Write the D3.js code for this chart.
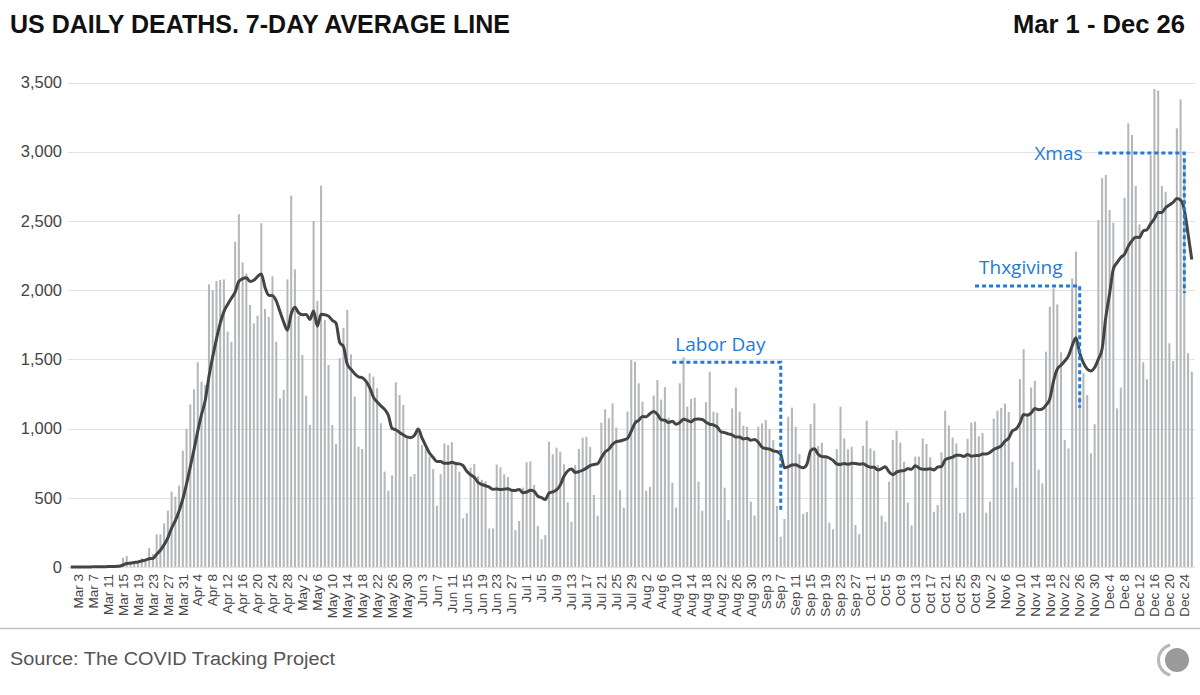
<!DOCTYPE html>
<html>
<head>
<meta charset="utf-8">
<script src="https://cdn.jsdelivr.net/npm/d3@7"></script>
<style>
  html, body { margin: 0; padding: 0; background: #fff; }
  svg { display: block; }
</style>
</head>
<body>
<svg id="chart" width="1200" height="695"></svg>
<script>
// ---- data ----
const startDate = "2020-03-01";
const endDate = "2020-12-26";

const deaths = [
  // Mar 1 - Mar 31
  0, 0, 1, 1, 2, 1, 2, 2, 3, 4, 5, 6, 8, 9, 67, 80, 26, 31, 31, 63, 50, 137, 94, 236, 236, 315, 407, 544, 508, 588, 840,
  // Apr 1 - Apr 30
  999, 1175, 1283, 1479, 1339, 1315, 2042, 2001, 2066, 2073, 2078, 1700, 1628, 2350, 2548, 2201, 2121, 1893, 1760, 1815,
  2483, 1864, 1808, 2100, 1628, 1218, 1279, 2078, 2683, 2150,
  // May 1 - May 31
  1813, 1531, 1238, 1026, 2500, 1922, 2755, 1784, 1459, 1026, 889, 1507, 1728, 1857, 1536, 1231, 869, 852, 1327, 1399,
  1375, 1291, 1038, 689, 551, 662, 1334, 1242, 1170, 929, 653,
  // Jun 1 - Jun 30
  672, 978, 881, 852, 797, 708, 443, 670, 893, 881, 901, 737, 689, 352, 388, 718, 745, 655, 630, 620,
  279, 279, 740, 720, 670, 650, 545, 267, 332, 573,
  // Jul 1 - Jul 31
  756, 763, 592, 296, 200, 231, 905, 814, 862, 833, 742, 467, 327, 737, 852, 934, 941, 869, 520, 371,
  1043, 1139, 1074, 1182, 1007, 556, 429, 1122, 1495, 1483, 1327,
  // Aug 1 - Aug 31
  1194, 551, 580, 1238, 1351, 1210, 1300, 1079, 609, 429, 1327, 1515, 1158, 1214, 1223, 616, 407, 1190, 1411, 1122,
  1115, 978, 573, 340, 1146, 1296, 1122, 1021, 1014, 472, 371,
  // Sep 1 - Sep 30
  1014, 1038, 1062, 997, 917, 441, 219, 347, 1086, 1151, 1014, 816, 383, 397, 1033, 1182, 874, 898, 809, 320,
  272, 852, 1158, 929, 850, 869, 303, 238, 876, 1057,
  // Oct 1 - Oct 31
  857, 840, 737, 371, 327, 616, 917, 985, 898, 760, 465, 300, 797, 797, 929, 889, 792, 399, 448, 828,
  1129, 1022, 935, 893, 390, 394, 927, 1043, 1050, 944, 968,
  // Nov 1 - Nov 30
  392, 472, 1073, 1129, 1149, 1180, 1120, 761, 573, 1356, 1573, 1110, 1296, 1346, 704, 604, 1556, 1881, 2013, 1897,
  1551, 917, 857, 2085, 2278, 1230, 1400, 1243, 821, 1031,
  // Dec 1 - Dec 26
  2507, 2808, 2832, 2579, 2487, 1146, 1296, 2668, 3205, 3121, 2752, 2475, 1479, 1356, 2976, 3453, 3441, 2752, 2711, 1616,
  1488, 3169, 3378, 2939, 1544, 1411
];

const yTicks = [0, 500, 1000, 1500, 2000, 2500, 3000, 3500];
const tickEvery = 4;      // x labels every 4th day
const tickOffset = 2;     // first label: Mar 3
const avgWindow = 7;

const annotations = [
  { label: "Labor Day", date: "2020-09-07", level: 1480, from: "2020-08-09", bottom: 410 },
  { label: "Thxgiving", date: "2020-11-26", level: 2030, from: "2020-10-29", bottom: 1150 },
  { label: "Xmas", date: "2020-12-24", level: 2990, from: "2020-12-01", bottom: 1980 }
];

// ---- layout ----
const svg = d3.select("#chart");
const W = 1200, H = 695;
const parse = d3.utcParse("%Y-%m-%d");
const fmt = d3.utcFormat("%b %-d");
const dates = d3.utcDay.range(parse(startDate), d3.utcDay.offset(parse(endDate), 1));
const data = dates.map((d, i) => ({ date: d, value: deaths[i] }));

const step = 3.737;
const x0 = 70.7;
const x = d3.scaleBand()
  .domain(dates.map(d => +d))
  .range([x0 - step / 2, x0 + (dates.length - 0.5) * step])
  .paddingInner(0.45)
  .paddingOuter(0.225);
const cx = d => x(+d) + x.bandwidth() / 2;

const y = d3.scaleLinear().domain([0, 3500]).range([567, 82.5]);

// header
svg.append("text")
  .attr("x", 10).attr("y", 33)
  .attr("font-family", "'Liberation Sans Narrow', 'Arial Narrow', 'Liberation Sans', Arial, sans-serif")
  .attr("font-weight", "bold").attr("font-size", 26).attr("fill", "#111")
  .attr("textLength", 500).attr("lengthAdjust", "spacingAndGlyphs")
  .text("US DAILY DEATHS. 7-DAY AVERAGE LINE");
svg.append("text")
  .attr("x", 1185).attr("y", 33).attr("text-anchor", "end")
  .attr("font-family", "'Liberation Sans Narrow', 'Arial Narrow', 'Liberation Sans', Arial, sans-serif")
  .attr("font-weight", "bold").attr("font-size", 26).attr("fill", "#111")
  .attr("textLength", 172).attr("lengthAdjust", "spacingAndGlyphs")
  .text("Mar 1 - Dec 26");

// gridlines + y labels
const grid = svg.append("g");
grid.selectAll("line").data(yTicks).join("line")
  .attr("x1", 68).attr("x2", 1195)
  .attr("y1", d => Math.round(y(d)) + 0.5).attr("y2", d => Math.round(y(d)) + 0.5)
  .attr("stroke", "#e2e2e2").attr("stroke-width", 1);
grid.selectAll("text").data(yTicks).join("text")
  .attr("x", 62).attr("y", d => y(d)).attr("dy", "0.35em")
  .attr("text-anchor", "end")
  .attr("font-family", "'Liberation Sans', Arial, sans-serif")
  .attr("font-size", 16.5).attr("fill", "#444")
  .text(d => d3.format(",")(d));

// bars
svg.append("g").selectAll("rect").data(data).join("rect")
  .attr("x", d => x(+d.date))
  .attr("width", x.bandwidth())
  .attr("y", d => y(d.value))
  .attr("height", d => y(0) - y(d.value))
  .attr("fill", "#b4b8bb");

// 7-day trailing average line
const avg = data.map((d, i) => ({
  date: d.date,
  value: d3.mean(deaths.slice(Math.max(0, i - avgWindow + 1), i + 1))
}));
svg.append("path")
  .datum(avg)
  .attr("fill", "none")
  .attr("stroke", "#444")
  .attr("stroke-width", 3)
  .attr("stroke-linejoin", "round")
  .attr("d", d3.line().x(d => cx(d.date)).y(d => y(d.value)).curve(d3.curveMonotoneX));

// x axis labels
const tickDates = dates.filter((d, i) => i >= tickOffset && (i - tickOffset) % tickEvery === 0);
svg.append("g").selectAll("text").data(tickDates).join("text")
  .attr("transform", d => `translate(${cx(d)},574) rotate(-90)`)
  .attr("text-anchor", "end")
  .attr("dy", "0.35em")
  .attr("font-family", "'Liberation Sans', Arial, sans-serif")
  .attr("font-size", 13.5).attr("fill", "#444")
  .text(d => fmt(d));

// annotations
const blue = "#1f7ad8";
const ann = svg.append("g");
annotations.forEach(a => {
  const xv = cx(parse(a.date));
  const xs = cx(parse(a.from));
  const yl = y(a.level);
  ann.append("path")
    .attr("d", `M${xs},${yl}H${xv}V${y(a.bottom)}`)
    .attr("fill", "none").attr("stroke", blue).attr("stroke-width", 3)
    .attr("stroke-dasharray", "4,3");
});
const lab = (txt, xp, yp) => ann.append("text")
  .attr("x", xp).attr("y", yp)
  .attr("font-family", "'Open Sans', 'DejaVu Sans', sans-serif")
  .attr("font-size", 19).attr("fill", blue).text(txt);
lab(annotations[0].label, cx(parse(annotations[0].from)) + 3, y(annotations[0].level) - 11);
lab(annotations[1].label, cx(parse(annotations[1].from)) + 4, y(annotations[1].level) - 12);
lab(annotations[2].label, cx(parse(annotations[2].from)) - 64, y(annotations[2].level) + 7);

// footer
svg.append("line").attr("x1", 0).attr("x2", W).attr("y1", 628.5).attr("y2", 628.5)
  .attr("stroke", "#c4c4c4").attr("stroke-width", 1.5);
svg.append("text")
  .attr("x", 10).attr("y", 665)
  .attr("font-family", "'Liberation Sans', Arial, sans-serif")
  .attr("font-size", 18).attr("fill", "#555")
  .attr("textLength", 325).attr("lengthAdjust", "spacingAndGlyphs")
  .text("Source: The COVID Tracking Project");

// logo
const logo = svg.append("g").attr("transform", "translate(1174,660)");
logo.append("path")
  .attr("d", d3.arc().innerRadius(14).outerRadius(17).startAngle(Math.PI * 1.08).endAngle(Math.PI * 1.92)())
  .attr("fill", "#b8b8b8");
logo.append("circle").attr("cx", 3).attr("cy", 0).attr("r", 12).attr("fill", "#9a9a9a");
</script>
</body>
</html>
